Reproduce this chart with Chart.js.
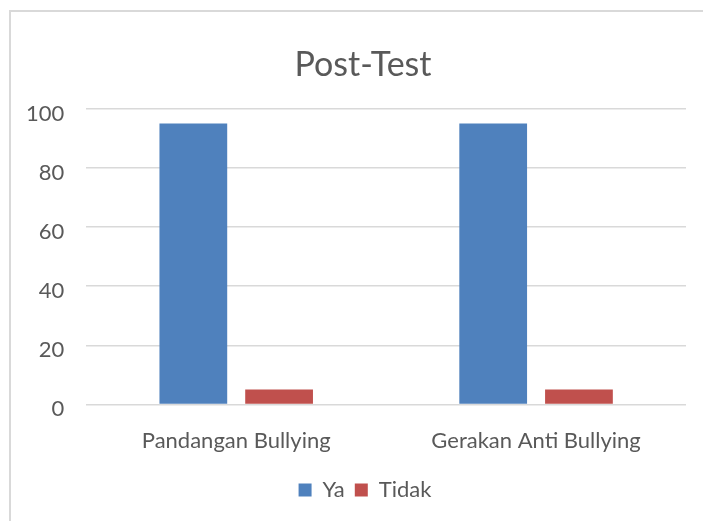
<!DOCTYPE html>
<html lang="en">

<head>
    <meta charset="UTF-8">
    <title>Post-Test</title>
    <script src="https://cdn.jsdelivr.net/npm/chart.js"></script>
    <style>
        body { margin: 0; background: #fff; }
        .frame {
            position: absolute;
            left: 9px;
            top: 10px;
            width: 700px;
            height: 520px;
            border-top: 2px solid #d9d9d9;
            border-left: 2px solid #d9d9d9;
        }
        .chart-box {
            position: absolute;
            left: 0;
            top: 0;
            width: 703px;
            height: 521px;
        }
    </style>
</head>

<body>
    <div class="frame"></div>
    <div class="chart-box">
        <canvas id="postTestChart"></canvas>
    </div>

    <script>
        const categories = ['Pandangan Bullying', 'Gerakan Anti Bullying'];
        const yaValues = [95, 95];
        const tidakValues = [5, 5];
        const yTicks = [0, 20, 40, 60, 80, 100];

        const textColor = '#595959';
        const fontFamily = 'Lato, Carlito, "Open Sans", sans-serif';

        // title and legend sit a bit right of the canvas centre in the original
        const shiftTitleLegend = {
            id: 'shiftTitleLegend',
            afterLayout(chart) {
                chart.titleBlock.left += 36;
                chart.legend.left += 40;
            }
        };

        const ctx = document.getElementById('postTestChart').getContext('2d');
        new Chart(ctx, {
            type: 'bar',
            data: {
                labels: categories,
                datasets: [{
                    label: 'Ya',
                    data: yaValues,
                    backgroundColor: '#4F81BD'
                }, {
                    label: 'Tidak',
                    data: tidakValues,
                    backgroundColor: '#C0504D'
                }]
            },
            plugins: [shiftTitleLegend],
            options: {
                responsive: true,
                maintainAspectRatio: false,
                animation: false,
                categoryPercentage: 0.572,
                barPercentage: 0.79,
                layout: { padding: { left: 4, right: 17, top: 45, bottom: 10 } },
                plugins: {
                    title: {
                        display: true,
                        text: 'Post-Test',
                        color: textColor,
                        font: { family: fontFamily, size: 34, weight: 'normal' },
                        padding: { top: 0, bottom: 23 }
                    },
                    legend: {
                        position: 'bottom',
                        labels: {
                            color: textColor,
                            font: { family: fontFamily, size: 22 },
                            boxWidth: 13,
                            boxHeight: 13,
                            padding: 10
                        }
                    },
                    tooltip: { enabled: false }
                },
                scales: {
                    x: {
                        grid: { display: false },
                        border: { display: false },
                        ticks: {
                            color: textColor,
                            font: { family: fontFamily, size: 22, lineHeight: 1.3 },
                            padding: 14
                        }
                    },
                    y: {
                        min: 0,
                        max: 100,
                        afterBuildTicks: axis => {
                            axis.ticks = yTicks.map(v => ({ value: v }));
                        },
                        grid: { color: '#d9d9d9', lineWidth: 1.5, drawTicks: false },
                        border: { display: false },
                        ticks: {
                            color: textColor,
                            font: { family: fontFamily, size: 22 },
                            padding: 22,
                            labelOffset: 5
                        }
                    }
                }
            }
        });
    </script>
</body>

</html>
